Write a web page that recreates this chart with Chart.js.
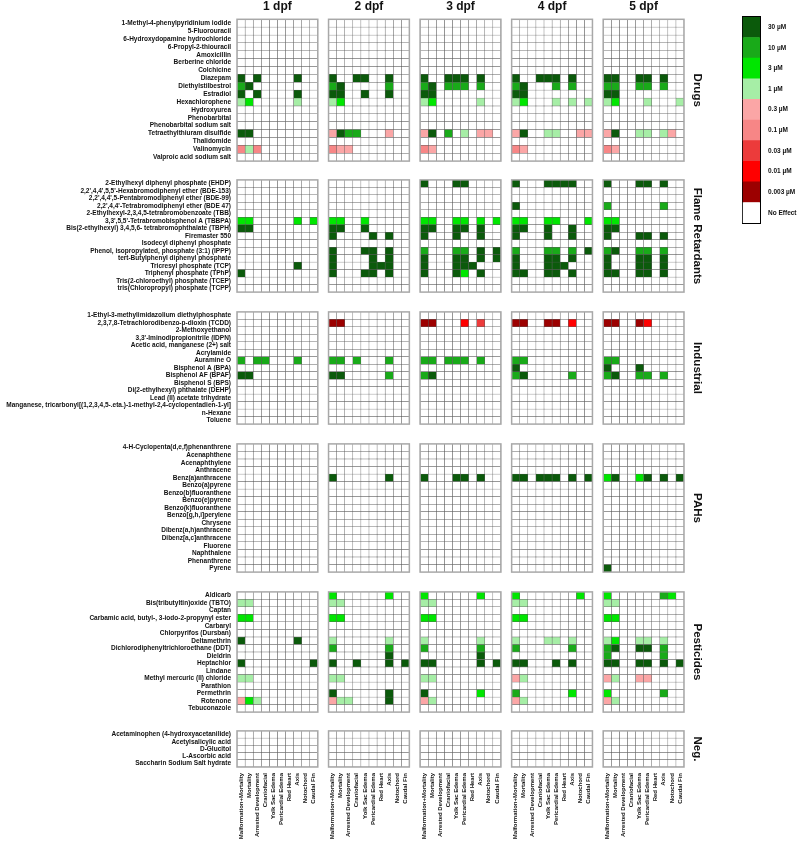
<!DOCTYPE html>
<html>
<head>
<meta charset="utf-8">
<script src="https://cdn.jsdelivr.net/npm/chart.js@4.4.0/dist/chart.umd.min.js"></script>
<style>
  body { margin: 0; background: #fff; }
  #page { position: relative; width: 800px; height: 848px; overflow: hidden; }
  .box { position: absolute; left: 0; }
</style>
</head>
<body>
<div id="page"></div>
<script>
const days = ['1 dpf', '2 dpf', '3 dpf', '4 dpf', '5 dpf'];
const endpoints = ['Malformation+Mortality', 'Mortality', 'Arrested Development', 'Craniofacial',
  'Yolk Sac Edema', 'Pericardial Edema', 'Red Heart', 'Axis', 'Notochord', 'Caudal Fin'];
const concLabels = ['30 µM', '10 µM', '3 µM', '1 µM', '0.3 µM', '0.1 µM', '0.03 µM', '0.01 µM', '0.003 µM', 'No Effect'];
const concColors = ['#0b5a0b', '#19aa19', '#00e600', '#a6eea6', '#fba6a6', '#f78686', '#ec3b3b', '#ff0000', '#9c0000', '#ffffff'];

// one string per compound, 5 blocks (1..5 dpf) of 10 endpoints
// digit k -> concLabels[k-1] (lowest conc. with effect), '.' -> no effect
const drugNames = ['1-Methyl-4-phenylpyridinium iodide', '5-Fluorouracil', '6-Hydroxydopamine hydrochloride',
  '6-Propyl-2-thiouracil', 'Amoxicillin', 'Berberine chloride', 'Colchicine', 'Diazepam', 'Diethylstilbestrol',
  'Estradiol', 'Hexachlorophene', 'Hydroxyurea', 'Phenobarbital', 'Phenobarbital sodium salt',
  'Tetraethylthiuram disulfide', 'Thalidomide', 'Valinomycin', 'Valproic acid sodium salt'];
const drugCells = [
  '.......... .......... .......... .......... ..........',
  '.......... .......... .......... .......... ..........',
  '.......... .......... .......... .......... ..........',
  '.......... .......... .......... .......... ..........',
  '.......... .......... .......... .......... ..........',
  '.......... .......... .......... .......... ..........',
  '.......... .......... .......... .......... ..........',
  '1.1....1.. 1..11..1.. 1..111.1.. 1..111.1.. 11..11.1..',
  '21........ 21.....2.. 21.222.2.. 21...2.2.. 22..22.2..',
  '1.1....1.. 11..1..1.. 11........ 11........ 11........',
  '43.....4.. 43........ 43.....4.. 43...4.4.4 43...4...4',
  '.......... .......... .......... .......... ..........',
  '.......... .......... .......... .......... ..........',
  '.......... .......... .......... .......... ..........',
  '11........ 5122...5.. 51.2.4.55. 51..44..55 51..44.45.',
  '.......... .......... .......... .......... ..........',
  '646....... 655....... 65........ 65........ 65........',
  '.......... .......... .......... .......... ..........'
];

const flameNames = ['2-Ethylhexyl diphenyl phosphate (EHDP)', "2,2',4,4',5,5'-Hexabromodiphenyl ether (BDE-153)",
  "2,2',4,4',5-Pentabromodiphenyl ether (BDE-99)", "2,2',4,4'-Tetrabromodiphenyl ether (BDE 47)",
  '2-Ethylhexyl-2,3,4,5-tetrabromobenzoate (TBB)', "3,3',5,5'-Tetrabromobisphenol A (TBBPA)",
  'Bis(2-ethylhexyl) 3,4,5,6- tetrabromophthalate (TBPH)', 'Firemaster 550', 'Isodecyl diphenyl phosphate',
  'Phenol, isopropylated, phosphate (3:1) (IPPP)', 'tert-Butylphenyl diphenyl phosphate',
  'Tricresyl phosphate (TCP)', 'Triphenyl phosphate (TPhP)', 'Tris(2-chloroethyl) phosphate (TCEP)',
  'tris(Chloropropyl) phosphate (TCPP)'];
const flameCells = [
  '.......... .......... 1...11.... 1...1111.. 1...11.1..',
  '.......... .......... .......... .......... ..........',
  '.......... .......... .......... .......... ..........',
  '.......... .......... .......... 1......... 2......2..',
  '.......... .......... .......... .......... ..........',
  '33.....3.3 33..3..... 33..33.3.3 33..33...3 33........',
  '11........ 11..1..... 11..11.1.. 11..1..1.. 11........',
  '.......... 1....1.1.. 1...1..1.. 1...1..1.. 1...11.1..',
  '.......... .......... .......... .......... ..........',
  '.......... 1...11.1.. 2...22.1.1 2...22.2.1 21..22.2..',
  '.......... 1....1.1.. 1...11.1.1 1...11.1.. 1...11.1..',
  '.......1.. 1....111.. 1...111... 1...111... 1...11.1..',
  '1......... 1...11.1.. 1...13.1.. 11..11.1.. 11..11.1..',
  '.......... .......... .......... .......... ..........',
  '.......... .......... .......... .......... ..........'
];

const industrialNames = ['1-Ethyl-3-methylimidazolium diethylphosphate', '2,3,7,8-Tetrachlorodibenzo-p-dioxin (TCDD)',
  '2-Methoxyethanol', "3,3'-Iminodipropionitrile (IDPN)", 'Acetic acid, manganese (2+) salt', 'Acrylamide',
  'Auramine O', 'Bisphenol A (BPA)', 'Bisphenol AF (BPAF)', 'Bisphenol S (BPS)', 'Di(2-ethylhexyl) phthalate (DEHP)',
  'Lead (II) acetate trihydrate', 'Manganese, tricarbonyl[(1,2,3,4,5-.eta.)-1-methyl-2,4-cyclopentadien-1-yl]',
  'n-Hexane', 'Toluene'];
const industrialCells = [
  '.......... .......... .......... .......... ..........',
  '.......... 99........ 99...8.7.. 99..99.8.. 99..98....',
  '.......... .......... .......... .......... ..........',
  '.......... .......... .......... .......... ..........',
  '.......... .......... .......... .......... ..........',
  '.......... .......... .......... .......... ..........',
  '2.22...2.. 22.2...2.. 22.222.2.. 22........ 22........',
  '.......... .......... .......... 1......... 1...1.....',
  '11........ 11.....2.. 21........ 21.....2.. 21..22.2..',
  '.......... .......... .......... .......... ..........',
  '.......... .......... .......... .......... ..........',
  '.......... .......... .......... .......... ..........',
  '.......... .......... .......... .......... ..........',
  '.......... .......... .......... .......... ..........',
  '.......... .......... .......... .......... ..........'
];

const pahNames = ['4-H-Cyclopenta(d,e,f)phenanthrene', 'Acenaphthene', 'Acenaphthylene', 'Anthracene',
  'Benz(a)anthracene', 'Benzo(a)pyrene', 'Benzo(b)fluoranthene', 'Benzo(e)pyrene', 'Benzo(k)fluoranthene',
  'Benzo[g,h,i]perylene', 'Chrysene', 'Dibenz(a,h)anthracene', 'Dibenz[a,c]anthracene', 'Fluorene',
  'Naphthalene', 'Phenanthrene', 'Pyrene'];
const pahCells = [
  '.......... .......... .......... .......... ..........',
  '.......... .......... .......... .......... ..........',
  '.......... .......... .......... .......... ..........',
  '.......... .......... .......... .......... ..........',
  '.......... 1......1.. 1...11.1.. 11.111.1.1 31..31.1.1',
  '.......... .......... .......... .......... ..........',
  '.......... .......... .......... .......... ..........',
  '.......... .......... .......... .......... ..........',
  '.......... .......... .......... .......... ..........',
  '.......... .......... .......... .......... ..........',
  '.......... .......... .......... .......... ..........',
  '.......... .......... .......... .......... ..........',
  '.......... .......... .......... .......... ..........',
  '.......... .......... .......... .......... ..........',
  '.......... .......... .......... .......... ..........',
  '.......... .......... .......... .......... ..........',
  '.......... .......... .......... .......... 1.........'
];

const pesticideNames = ['Aldicarb', 'Bis(tributyltin)oxide (TBTO)', 'Captan',
  'Carbamic acid, butyl-, 3-iodo-2-propynyl ester', 'Carbaryl', 'Chlorpyrifos (Dursban)', 'Deltamethrin',
  'Dichlorodiphenyltrichloroethane (DDT)', 'Dieldrin', 'Heptachlor', 'Lindane', 'Methyl mercuric (II) chloride',
  'Parathion', 'Permethrin', 'Rotenone', 'Tebuconazole'];
const pesticideCells = [
  '.......... 3......3.. 3......3.. 3.......3. 3......23.',
  '44........ 44........ 44........ 44........ 44........',
  '.......... .......... .......... .......... ..........',
  '33........ 33........ 33........ 33........ 33........',
  '.......... .......... .......... .......... ..........',
  '.......... .......... .......... .......... ..........',
  '1......1.. 4......4.. 4......4.. 4...44.4.. 43..44.4..',
  '.......... 2......2.. 2......2.. 2......2.. 21..11.2..',
  '.......... .......1.. .......1.. .......... 2......2..',
  '1........1 1..1...1.1 11.....1.1 11...1.1.. 11..11.1.1',
  '.......... .......... .......... .......... ..........',
  '44........ 44........ 44........ 54........ 54..55....',
  '.......... .......... .......... .......... ..........',
  '.......... 1......1.. 1......3.. 2......3.. 3......2..',
  '534....... 544....1.. 54........ 54........ 54........',
  '.......... .......... .......... .......... ..........'
];

const negNames = ['Acetaminophen (4-hydroxyacetanilide)', 'Acetylsalicylic acid', 'D-Glucitol',
  'L-Ascorbic acid', 'Saccharin Sodium Salt hydrate'];
const negCells = [
  '.......... .......... .......... .......... ..........',
  '.......... .......... .......... .......... ..........',
  '.......... .......... .......... .......... ..........',
  '.......... .......... .......... .......... ..........',
  '.......... .......... .......... .......... ..........'
];

const groups = [
  { title: 'Drugs', names: drugNames, cells: drugCells },
  { title: 'Flame Retardants', names: flameNames, cells: flameCells },
  { title: 'Industrial', names: industrialNames, cells: industrialCells },
  { title: 'PAHs', names: pahNames, cells: pahCells },
  { title: 'Pesticides', names: pesticideNames, cells: pesticideCells },
  { title: 'Neg.', names: negNames, cells: negCells }
];

Chart.defaults.font.family = "'Liberation Sans', Arial, sans-serif";
Chart.defaults.color = '#111';
Chart.defaults.animation = false;

// layout
const ROW = 8.1;          // one cell, px
const GROUP_GAP = 10.2;
const PANEL_STEP = 11.33;  // panel pitch, in cell units
const XMAX = 4 * PANEL_STEP + 10;
const LEFT = 237, RIGHT = 684, TITLE_W = 20;
const HEAD_H = 19.3, FOOT_H = 82, PAD = 5;

const page = document.getElementById('page');

function cellColor(code) {
  return code === '.' ? concColors[9] : concColors[parseInt(code, 10) - 1];
}

function addCanvas(left, top, w, h) {
  const div = document.createElement('div');
  div.className = 'box';
  div.style.left = left + 'px';
  div.style.top = top + 'px';
  const cv = document.createElement('canvas');
  cv.width = w; cv.height = h;
  cv.style.width = w + 'px'; cv.style.height = h + 'px';
  div.appendChild(cv);
  page.appendChild(div);
  return cv;
}

// grey frame round each day panel
const panelFrame = {
  id: 'panelFrame',
  afterDatasetsDraw(chart) {
    const { ctx, chartArea: a, scales: { x } } = chart;
    ctx.save();
    ctx.strokeStyle = '#a8a8a8';
    ctx.lineWidth = 1.5;
    for (let p = 0; p < 5; p++) {
      const l = x.getPixelForValue(p * PANEL_STEP);
      const r = x.getPixelForValue(p * PANEL_STEP + 10);
      ctx.strokeRect(l, a.top, r - l, a.bottom - a.top);
    }
    ctx.restore();
  }
};

let y0 = 19.3;
groups.forEach((g, gi) => {
  const first = gi === 0, last = gi === groups.length - 1;
  const n = g.names.length;
  const padTop = first ? 0 : PAD, padBottom = last ? 0 : PAD;
  const headH = first ? HEAD_H : 0, footH = last ? FOOT_H : 0;
  const h = padTop + headH + n * ROW + footH + padBottom;
  const top = y0 - padTop - headH;
  const cv = addCanvas(0, top, 800, Math.ceil(h));

  const datasets = [];
  for (let p = 0; p < 5; p++) {
    for (let c = 0; c < 10; c++) {
      const x = p * PANEL_STEP + c;
      datasets.push({
        xAxisID: 'x', yAxisID: 'y',
        data: g.names.map(() => [x, x + 1]),
        backgroundColor: g.cells.map(row => cellColor(row[p * 11 + c])),
        borderColor: '#5c5c5c',
        borderWidth: 0.5,
        borderSkipped: false,
        grouped: false,
        barPercentage: 1,
        categoryPercentage: 1
      });
    }
  }

  new Chart(cv, {
    type: 'bar',
    data: { labels: g.names, datasets },
    plugins: [panelFrame],
    options: {
      indexAxis: 'y',
      responsive: false,
      layout: { padding: { top: padTop, bottom: padBottom, left: 0, right: 800 - RIGHT - TITLE_W } },
      plugins: { legend: { display: false }, tooltip: { enabled: false } },
      scales: {
        x: {
          type: 'linear', min: 0, max: XMAX, display: last, position: 'bottom',
          afterBuildTicks: ax => {
            const t = [];
            for (let p = 0; p < 5; p++) for (let c = 0; c < 10; c++) t.push({ value: p * PANEL_STEP + c + 0.5 });
            ax.ticks = t;
          },
          afterFit: ax => { ax.height = footH; },
          grid: { display: false, drawTicks: false },
          border: { display: false },
          ticks: {
            autoSkip: false, minRotation: 90, maxRotation: 90, padding: 6,
            font: { size: 6, weight: 'bold' },
            callback: (v, i) => endpoints[i % 10]
          }
        },
        xTop: {
          type: 'linear', min: 0, max: XMAX, display: first, position: 'top',
          afterBuildTicks: ax => { ax.ticks = days.map((d, p) => ({ value: p * PANEL_STEP + 5 })); },
          afterFit: ax => { ax.height = headH; },
          grid: { display: false, drawTicks: false },
          border: { display: false },
          ticks: { autoSkip: false, maxRotation: 0, padding: 5, font: { size: 12, weight: 'bold' },
            callback: (v, i) => days[i] }
        },
        y: {
          type: 'category', offset: true,
          afterFit: ax => { ax.width = LEFT; },
          grid: { display: false, drawTicks: false },
          border: { display: false },
          ticks: { autoSkip: false, padding: 6, font: { size: 6.5, weight: 'bold' } }
        },
        y2: {
          type: 'linear', position: 'right', min: 0, max: 1,
          afterFit: ax => { ax.width = TITLE_W; },
          grid: { display: false, drawTicks: false },
          border: { display: false },
          ticks: { display: false },
          title: { display: true, text: g.title, padding: 0, font: { size: 11.5, weight: 'bold' } }
        }
      }
    }
  });
  y0 += n * ROW + GROUP_GAP;
});

// colour key
const keyCv = addCanvas(700, 0, 100, 240);
const keyTicks = concLabels.map((l, i) => 9.5 - i);
new Chart(keyCv, {
  type: 'bar',
  data: {
    labels: [''],
    datasets: concLabels.map((l, i) => ({
      xAxisID: 'x', yAxisID: 'y',
      data: [1], backgroundColor: concColors[i], borderWidth: 0,
      barPercentage: 1, categoryPercentage: 1
    })).reverse()
  },
  options: {
    responsive: false,
    layout: { padding: { left: 42.7, top: 10, right: 0, bottom: 13 } },
    plugins: { legend: { display: false }, tooltip: { enabled: false } },
    scales: {
      x: {
        stacked: true, afterFit: ax => { ax.height = 0; },
        ticks: { display: false }, grid: { display: false, drawTicks: false },
        border: { display: true, color: '#000', width: 2 }
      },
      y: {
        stacked: true, position: 'right', min: 0, max: 10,
        afterBuildTicks: ax => { ax.ticks = keyTicks.map(v => ({ value: v })).reverse(); },
        afterFit: ax => { ax.width = 40; },
        ticks: {
          autoSkip: false, padding: 13, font: { size: 6.5, weight: 'bold' },
          callback: v => concLabels[Math.round(9.5 - v)]
        },
        grid: { drawOnChartArea: false, tickLength: -5, color: '#000', lineWidth: 1.5 },
        border: { display: true, color: '#000', width: 2 }
      },
      xTop: {
        type: 'category', labels: [''], position: 'top', afterFit: ax => { ax.height = 0; },
        ticks: { display: false }, grid: { display: false, drawTicks: false },
        border: { display: true, color: '#000', width: 2 }
      },
      yL: {
        type: 'linear', position: 'left', min: 0, max: 10,
        afterBuildTicks: ax => { ax.ticks = keyTicks.map(v => ({ value: v })); },
        afterFit: ax => { ax.width = 0; },
        ticks: { display: false },
        grid: { drawOnChartArea: false, tickLength: -5, color: '#000', lineWidth: 1.5 },
        border: { display: true, color: '#000', width: 2 }
      }
    }
  }
});
</script>
</body>
</html>
